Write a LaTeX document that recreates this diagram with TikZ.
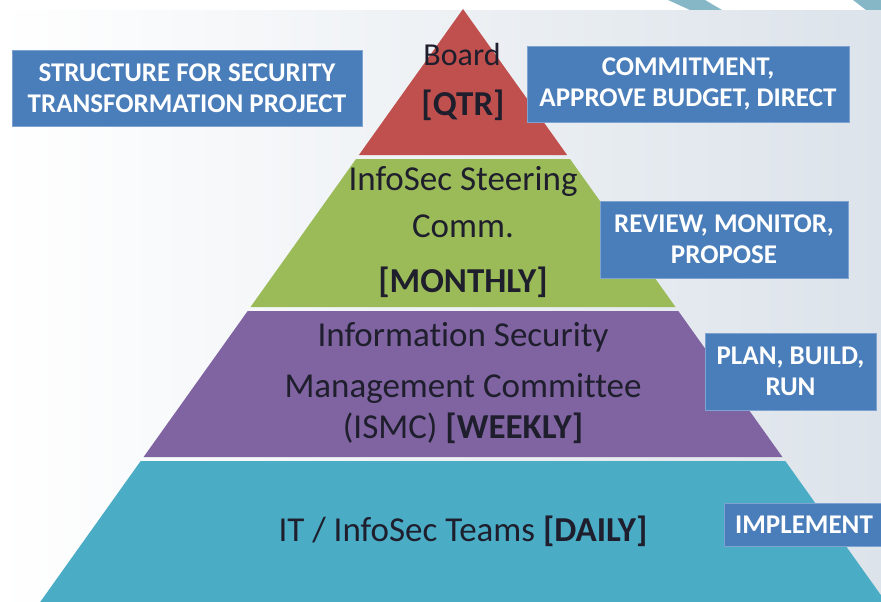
\documentclass[tikz,border=0pt]{standalone}
\usepackage{fontspec}
\setmainfont[Ligatures=NoCommon]{Carlito}
\definecolor{boxblue}{HTML}{4A7EBB}
\definecolor{boxedge}{HTML}{7FA3D0}
\definecolor{lred}{HTML}{C0504D}
\definecolor{lgreen}{HTML}{9BBB59}
\definecolor{lpurple}{HTML}{8064A2}
\definecolor{lcyan}{HTML}{4BACC6}
\definecolor{bggray}{HTML}{DCE3EA}
\definecolor{stripe}{HTML}{86B7C6}
\definecolor{ink}{HTML}{1E1E2C}
\begin{document}
\begin{tikzpicture}[x=1pt,y=-1pt,
  infobox/.style={fill=boxblue, draw=boxedge, line width=0.8pt, text=white,
    font=\fontsize{27}{31}\selectfont\bfseries, align=center, inner sep=0pt},
  ptext/.style={text=ink, font=\fontsize{35}{40}\selectfont, anchor=base, inner sep=0pt},
  layer/.style={draw=none}]
\useasboundingbox (0,0) rectangle (881,602);
% background
\shade[left color=white, right color=bggray] (0,0) rectangle (881,602);
\fill[white] (0,0) rectangle (881,10);
\fill[stripe] (668,0) -- (705,0) -- (722,10) -- (690,10) -- cycle;
\fill[stripe] (853,0) -- (881,0) -- (881,10) -- (866,10) -- cycle;
% pyramid layers (half-width = 0.713*(y-9), centre 463)
\fill[lred]    (463,9) -- (567.1,155) -- (358.9,155) -- cycle;
\fill[lgreen]  (356,159) -- (570,159) -- (675.5,307) -- (250.5,307) -- cycle;
\fill[lpurple] (247.7,311) -- (678.3,311) -- (782.4,457) -- (143.6,457) -- cycle;
\fill[lcyan]   (140.7,461) -- (785.3,461) -- (885.8,602) -- (40.2,602) -- cycle;
% pyramid texts
\node[ptext, font=\fontsize{32}{38}\selectfont] (board) at (462,66) {Board};
\node[ptext] (qtr) at (463,115) {\textbf{[QTR]}};
\node[ptext] (steer1) at (463,190) {InfoSec Steering};
\node[ptext] (steer2) at (463,237) {Comm.};
\node[ptext] (monthly) at (463,292) {\textbf{[MONTHLY]}};
\node[ptext] (ismc1) at (463,346) {Information Security};
\node[ptext] (ismc2) at (463,397) {Management Committee};
\node[ptext] (ismc3) at (463,438) {(ISMC) \textbf{[WEEKLY]}};
\node[ptext] (daily) at (463,541) {IT / InfoSec Teams \textbf{[DAILY]}};
% blue boxes
\node[infobox, minimum width=350pt, minimum height=76pt] (title) at (187,88)
  {STRUCTURE FOR SECURITY\\TRANSFORMATION PROJECT};
\node[infobox, minimum width=322pt, minimum height=76pt] (commit) at (688,84)
  {COMMITMENT,\\APPROVE BUDGET, DIRECT};
\node[infobox, minimum width=248pt, minimum height=77pt] (review) at (724,239.5)
  {REVIEW, MONITOR,\\PROPOSE};
\node[infobox, minimum width=171pt, minimum height=77pt] (plan) at (790.5,371.5)
  {PLAN, BUILD,\\RUN};
\node[infobox, minimum width=160pt, minimum height=43pt] (impl) at (804,524.5)
  {IMPLEMENT};
\end{tikzpicture}
\end{document}
